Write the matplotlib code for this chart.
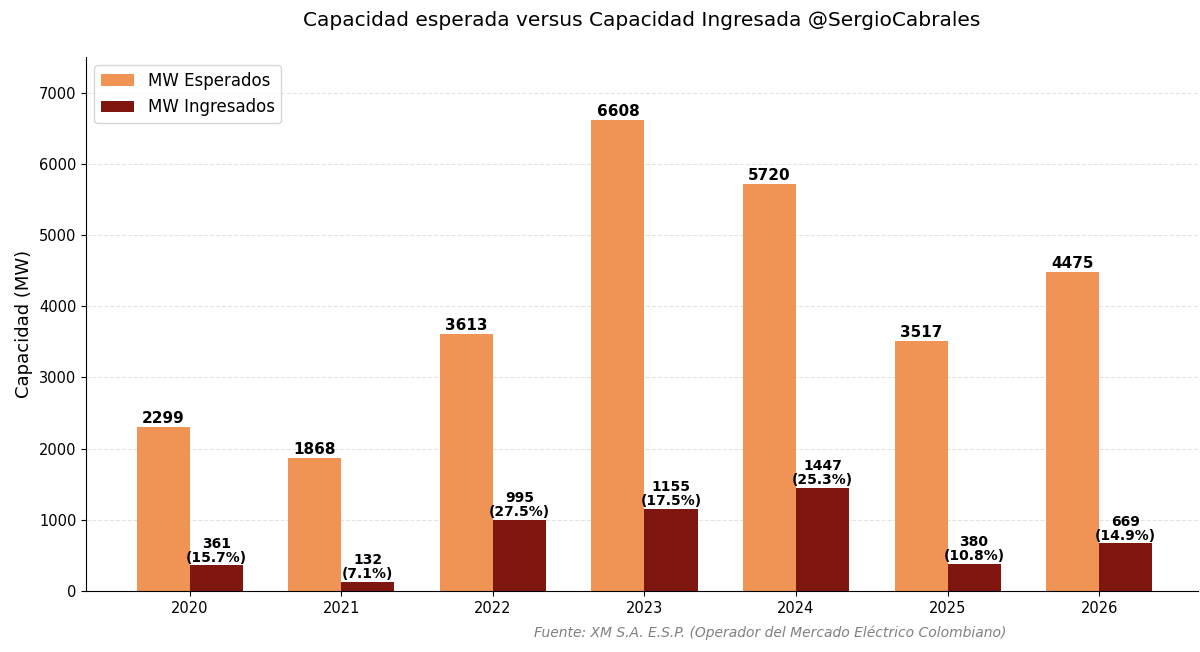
import numpy as np
import matplotlib
matplotlib.use("Agg")
import matplotlib.pyplot as plt

years = ['2020', '2021', '2022', '2023', '2024', '2025', '2026']
esperados = [2299, 1868, 3613, 6608, 5720, 3517, 4475]
ingresados = [361, 132, 995, 1155, 1447, 380, 669]

c_esp = '#F09456'
c_ing = '#7F1710'

fig, ax = plt.subplots(figsize=(12, 6.52), dpi=100)
fig.subplots_adjust(left=0.0717, right=0.998, bottom=0.0936, top=0.9126)

x = np.arange(len(years))
w = 0.35
b1 = ax.bar(x - w/2, esperados, w, color=c_esp, label='MW Esperados')
b2 = ax.bar(x + w/2, ingresados, w, color=c_ing, label='MW Ingresados')

for rect, v in zip(b1, esperados):
    ax.text(rect.get_x() + rect.get_width()/2, v + 15, str(v),
            ha='center', va='bottom', fontsize=11, fontweight='bold')

for rect, v, e in zip(b2, ingresados, esperados):
    pct = v / e * 100
    ax.text(rect.get_x() + rect.get_width()/2, v + 10, '{}\n({:.1f}%)'.format(v, pct),
            ha='center', va='bottom', fontsize=10, fontweight='bold', linespacing=1.0)

ax.set_xticks(x)
ax.set_xticklabels(years, fontsize=10.5)
ax.tick_params(axis='y', labelsize=10.5)
ax.set_xlim(-0.685, 6.65)
ax.set_ylim(0, 7500)
ax.set_yticks(range(0, 7001, 1000))
ax.set_ylabel('Capacidad (MW)', fontsize=13)
ax.set_title('Capacidad esperada versus Capacidad Ingresada @SergioCabrales', fontsize=14.5, pad=22)
ax.grid(axis='y', linestyle='--', alpha=0.35)
ax.set_axisbelow(True)
ax.spines['top'].set_visible(False)
ax.spines['right'].set_visible(False)
ax.legend(loc='upper left', fontsize=12)

fig.text(0.642, 0.018, 'Fuente: XM S.A. E.S.P. (Operador del Mercado Eléctrico Colombiano)',
         ha='center', va='bottom', fontsize=10, style='italic', color='gray')

fig.savefig('out.png', dpi=100)
